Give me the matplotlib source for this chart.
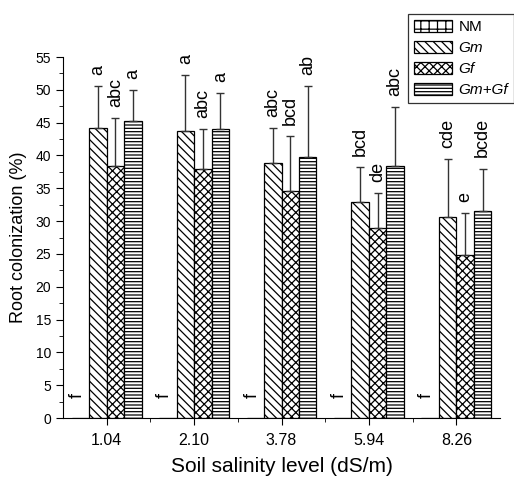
import matplotlib
matplotlib.use('Agg')
import matplotlib.pyplot as plt
import numpy as np

plt.rcParams['font.family'] = ['Liberation Sans', 'DejaVu Sans']
plt.rcParams['hatch.linewidth'] = 0.9

salinity = ['1.04', '2.10', '3.78', '5.94', '8.26']
treatments = ['NM', 'Gm', 'Gf', 'Gm+Gf']
hatches = ['++', '\\\\\\\\', 'xxxx', '-----']

nm = [0, 0, 0, 0, 0]
gm = [44.2, 43.8, 38.8, 32.9, 30.7]
gf = [38.4, 37.9, 34.6, 28.9, 24.8]
gmgf = [45.3, 44.0, 39.7, 38.4, 31.5]

gm_err = [6.4, 8.4, 5.4, 5.3, 8.7]
gf_err = [7.3, 6.1, 8.3, 5.4, 6.4]
gmgf_err = [4.6, 5.5, 10.9, 9.0, 6.5]

nm_let = ['f', 'f', 'f', 'f', 'f']
gm_let = ['a', 'a', 'abc', 'bcd', 'cde']
gf_let = ['abc', 'abc', 'bcd', 'de', 'e']
gmgf_let = ['a', 'a', 'ab', 'abc', 'bcde']

fig = plt.figure(figsize=(5.14, 4.79), dpi=100)
ax = fig.add_axes([0.1226, 0.1273, 0.8502, 0.7537])

x = np.arange(1, len(salinity) + 1)
w = 0.2
offs = [-1.5 * w, -0.5 * w, 0.5 * w, 1.5 * w]
vals = [nm, gm, gf, gmgf]
errs = [None, gm_err, gf_err, gmgf_err]
lets = [nm_let, gm_let, gf_let, gmgf_let]

for i in range(4):
    ax.bar(x + offs[i], vals[i], w, color='white', edgecolor='black',
           linewidth=0.9, hatch=hatches[i], label=treatments[i])
    if errs[i] is not None:
        ax.errorbar(x + offs[i], vals[i], yerr=[np.zeros(5), errs[i]],
                    fmt='none', ecolor='#333333', elinewidth=1, capsize=3, capthick=1)
        for j in range(5):
            ax.text(x[j] + offs[i], vals[i][j] + errs[i][j] + 1.7, lets[i][j],
                    rotation=90, ha='center', va='bottom', fontsize=13)
    else:
        for j in range(5):
            ax.text(x[j] + offs[i] - 0.04, 3.4, lets[i][j],
                    rotation=90, ha='center', va='center', fontsize=13)

ax.set_xlim(0.5, 5.5)
ax.set_ylim(0, 55)
ax.set_xticks(x)
ax.set_xticklabels(salinity, fontsize=11.5)
ax.set_xticks(np.arange(1.5, 5.5, 1), minor=True)
ax.set_yticks(np.arange(0, 56, 5))
ax.set_yticks(np.arange(0, 55, 2.5), minor=True)
ax.tick_params(axis='y', labelsize=10)
ax.tick_params(which='major', direction='out', length=5)
ax.tick_params(which='minor', direction='out', length=3)
ax.tick_params(axis='x', pad=6)
ax.spines['top'].set_visible(False)
ax.spines['right'].set_visible(False)

ax.set_xlabel('Soil salinity level (dS/m)', fontsize=15, labelpad=6)
ax.set_ylabel('Root colonization (%)', fontsize=13, labelpad=6)

leg = fig.legend(loc='upper right', bbox_to_anchor=(1.0, 1 - 14 / 479),
                 fontsize=11, frameon=True, fancybox=False, edgecolor='black',
                 handlelength=2.5, handleheight=0.8, labelspacing=0.45,
                 borderpad=0.4, handletextpad=0.4, borderaxespad=0)
leg.get_frame().set_linewidth(0.9)
for t in leg.get_texts()[1:]:
    t.set_fontstyle('italic')

fig.savefig('out.png', dpi=100)
